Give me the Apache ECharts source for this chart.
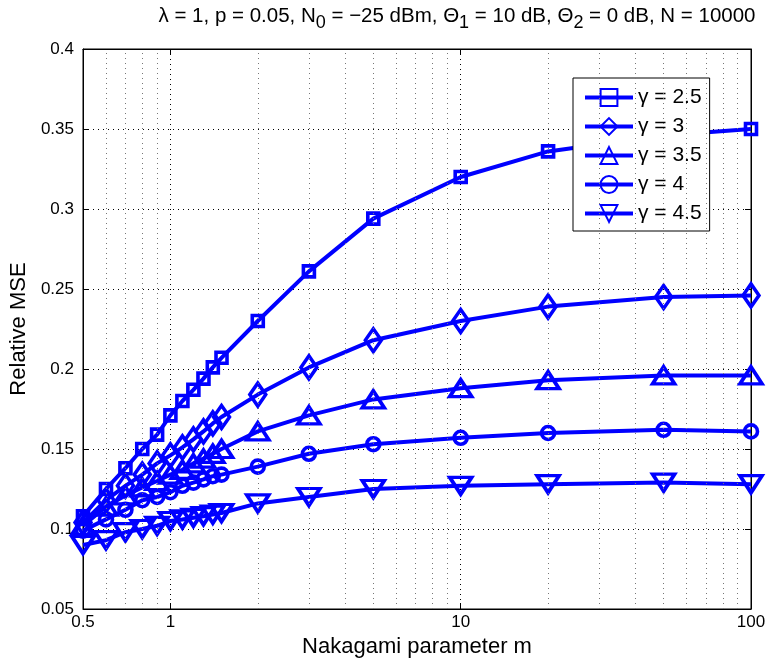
<!DOCTYPE html>
<html>
<head>
<meta charset="utf-8">
<title>Relative MSE vs Nakagami parameter</title>
<script src="https://cdn.jsdelivr.net/npm/echarts@6/dist/echarts.min.js"></script>
<style>
  html, body { margin: 0; padding: 0; background: #fff; }
  #chart { width: 769px; height: 666px; }
</style>
</head>
<body>
<div id="chart"></div>
<script>
// Nakagami parameter m (x axis, log scale)
const mValues = [0.5, 0.6, 0.7, 0.8, 0.9, 1, 1.1, 1.2, 1.3, 1.4, 1.5, 2, 3, 5, 10, 20, 50, 100];

// relative MSE for each path-loss exponent
const mseG25 = [0.108, 0.125, 0.138, 0.150, 0.159, 0.171, 0.180, 0.187, 0.194, 0.201, 0.207, 0.230, 0.261, 0.294, 0.320, 0.336, 0.346, 0.350];
const mseG3  = [0.104, 0.118, 0.127, 0.134, 0.141, 0.146, 0.151, 0.156, 0.161, 0.166, 0.170, 0.184, 0.201, 0.218, 0.230, 0.239, 0.245, 0.246];
const mseG35 = [0.102, 0.114, 0.121, 0.126, 0.130, 0.134, 0.137, 0.141, 0.144, 0.147, 0.150, 0.161, 0.171, 0.181, 0.188, 0.193, 0.196, 0.196];
const mseG4  = [0.099, 0.106, 0.112, 0.118, 0.120, 0.123, 0.127, 0.129, 0.131, 0.133, 0.134, 0.139, 0.147, 0.153, 0.157, 0.160, 0.162, 0.161];
const mseG45 = [0.090, 0.093, 0.098, 0.100, 0.102, 0.105, 0.106, 0.107, 0.108, 0.109, 0.110, 0.116, 0.120, 0.125, 0.127, 0.128, 0.129, 0.128];

const seriesNames = ["γ = 2.5", "γ = 3", "γ = 3.5", "γ = 4", "γ = 4.5"];

// minor log grid lines (MATLAB style)
const minorGridX = [0.6, 0.7, 0.8, 0.9, 2, 3, 4, 5, 6, 7, 8, 9, 20, 30, 40, 50, 60, 70, 80, 90];

// y ticks
const yMin = 0.05, yMax = 0.4, yStep = 0.05;

const FONT = "'Liberation Sans', Arial, Helvetica, sans-serif";
const BLUE = "#0000ff";

const pairs = (ys) => mValues.map((m, i) => [m, ys[i]]);

// common marker style: hollow marker, thick blue line
const mkSeries = (name, ys, symbol, size, rotate) => ({
  name: name,
  type: "line",
  data: pairs(ys),
  symbol: symbol,
  symbolSize: size,
  symbolRotate: rotate || 0,
  showAllSymbol: true,
  z: 3,
  lineStyle: { color: BLUE, width: 4 },
  itemStyle: { color: "rgba(0,0,0,0)", borderColor: BLUE, borderWidth: 3.6 },
  emphasis: { disabled: true },
});

const chart = echarts.init(document.getElementById("chart"), null, { renderer: "canvas" });

const option = {
  animation: false,
  backgroundColor: "#fff",
  title: {
    text: "λ = 1, p = 0.05, N{s|0} = −25 dBm, Θ{s|1} = 10 dB, Θ{s|2} = 0 dB, N = 10000",
    left: 452,
    textAlign: "center",
    top: -4,
    textStyle: {
      fontFamily: FONT,
      fontSize: 20.5,
      fontWeight: "normal",
      color: "#000",
      rich: {
        s: { fontFamily: FONT, fontSize: 18, color: "#000", padding: [13, 0, 0, 0] },
      },
    },
  },
  grid: {
    left: 83,
    right: 18,
    top: 49,
    bottom: 57,
    show: true,
    borderColor: "#000",
    borderWidth: 1,
    backgroundColor: "#fff",
  },
  legend: {
    orient: "vertical",
    left: 573,
    top: 78,
    data: seriesNames,
    itemWidth: 48,
    itemHeight: 21,
    itemGap: 8,
    padding: [9, 8, 7, 10],
    backgroundColor: "#fff",
    borderColor: "#000",
    borderWidth: 1,
    lineStyle: { width: 4 },
    textStyle: { fontFamily: FONT, fontSize: 21, color: "#000", lineHeight: 20 },
  },
  xAxis: [
    {
      type: "log",
      logBase: 10,
      min: 0.5,
      max: 100,
      name: "Nakagami parameter m",
      nameLocation: "middle",
      nameGap: 27,
      nameTextStyle: { fontFamily: FONT, fontSize: 22, color: "#000" },
      axisLine: { show: true, lineStyle: { color: "#000", width: 1 } },
      axisTick: { show: true, inside: true, length: 6, lineStyle: { color: "#000" } },
      axisLabel: { fontFamily: FONT, fontSize: 17, color: "#000", margin: 5 },
      splitLine: { show: true, lineStyle: { color: "#000", type: [1, 4], width: 1 } },
    },
    {
      type: "log",
      logBase: 10,
      min: 0.5,
      max: 100,
      position: "top",
      axisLine: { show: true, lineStyle: { color: "#000" } },
      axisTick: { show: true, inside: true, length: 6, lineStyle: { color: "#000" } },
      axisLabel: { show: false },
      splitLine: { show: false },
    },
  ],
  yAxis: [
    {
      type: "value",
      min: yMin,
      max: yMax,
      interval: yStep,
      name: "Relative MSE",
      nameLocation: "middle",
      nameGap: 53,
      nameTextStyle: { fontFamily: FONT, fontSize: 22, color: "#000" },
      axisLine: { show: true, lineStyle: { color: "#000", width: 1 } },
      axisTick: { show: true, inside: true, length: 6, lineStyle: { color: "#000" } },
      axisLabel: {
        fontFamily: FONT,
        fontSize: 17,
        color: "#000",
        margin: 9,
        formatter: (v) => String(+v.toFixed(2)),
      },
      splitLine: { show: true, lineStyle: { color: "#000", type: [1, 4], width: 1 } },
    },
    {
      type: "value",
      min: yMin,
      max: yMax,
      interval: yStep,
      position: "right",
      axisLine: { show: true, lineStyle: { color: "#000" } },
      axisTick: { show: true, inside: true, length: 6, lineStyle: { color: "#000" } },
      axisLabel: { show: false },
      splitLine: { show: false },
    },
  ],
  series: [
    // minor grid lines drawn from the log scale
    {
      name: "minor-grid",
      type: "line",
      data: [],
      z: 1,
      silent: true,
      markLine: {
        silent: true,
        symbol: "none",
        animation: false,
        label: { show: false },
        lineStyle: { color: "#777", type: [1, 4], width: 1 },
        data: minorGridX.map((v) => ({ xAxis: v })),
      },
    },
    mkSeries(seriesNames[0], mseG25, "rect", 11),
    mkSeries(seriesNames[1], mseG3, "diamond", [16, 23]),
    mkSeries(seriesNames[2], mseG35, "triangle", [22, 17]),
    mkSeries(seriesNames[3], mseG4, "circle", 13),
    mkSeries(seriesNames[4], mseG45, "triangle", [22, 17], 180),
  ],
};

chart.setOption(option);
</script>
</body>
</html>
